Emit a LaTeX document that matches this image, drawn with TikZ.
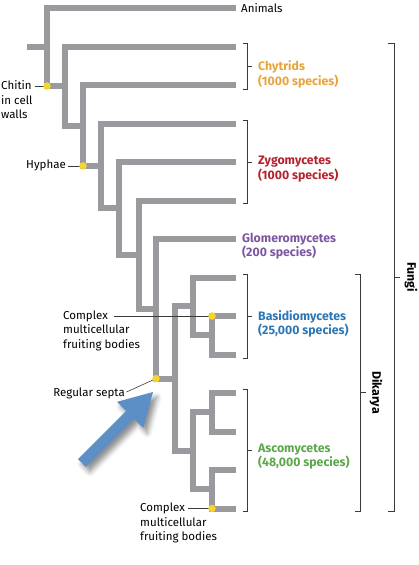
\documentclass[tikz,border=0pt]{standalone}
\usepackage{fontspec}
\setmainfont{Fira Sans}
\usetikzlibrary{positioning, arrows.meta, shadows.blur}

\definecolor{branchgray}{HTML}{9A9A9E}
\definecolor{dotyellow}{HTML}{F5D62E}
\definecolor{leadergray}{HTML}{3A3A3A}
\definecolor{arrowblue}{HTML}{5B8FC6}
\definecolor{chytorange}{HTML}{E9A33C}
\definecolor{zygored}{HTML}{B5222D}
\definecolor{glopurple}{HTML}{7C56A1}
\definecolor{basblue}{HTML}{2B77B5}
\definecolor{ascgreen}{HTML}{5CA64B}

\begin{document}
\begin{tikzpicture}[x=1pt, y=-1pt, font=\fontsize{11.5}{14.5}\selectfont,
    branch/.style={draw=branchgray, line width=6pt, line join=miter},
    dot/.style={circle, fill=dotyellow, inner sep=0pt, minimum size=7.5pt},
    leader/.style={draw=leadergray, line width=0.6pt},
    bracket/.style={draw=leadergray, line width=0.8pt},
    lbl/.style={inner sep=0pt, align=left},
    clade/.style={lbl, font=\fontsize{12.3}{14.5}\selectfont\bfseries}]

\useasboundingbox (0,0) rectangle (418,565);

% tips
\coordinate (tAnimals) at (236,8);
\coordinate (tChy1) at (236,46.5);
\coordinate (tChy2) at (236,85);
\coordinate (tZy1) at (236,123.5);
\coordinate (tZy2) at (236,162);
\coordinate (tZy3) at (236,200.5);
\coordinate (tGlo) at (236,239);
\coordinate (tBas1) at (236,277.5);
\coordinate (tBas2) at (236,316);
\coordinate (tBas3) at (236,354.5);
\coordinate (tAsc1) at (236,393);
\coordinate (tAsc2) at (236,431.5);
\coordinate (tAsc3) at (236,470);
\coordinate (tAsc4) at (236,508.5);

% inner nodes
\coordinate (root) at (27,47);
\coordinate (nOpist) at (47,47);
\coordinate (nFungi) at (65,86);
\coordinate (nChy) at (83,125.5);
\coordinate (nZy1) at (101,165.9);
\coordinate (nZy2) at (119,208.3);
\coordinate (nZy3) at (139,254.6);
\coordinate (nGlo) at (156,308.8);
\coordinate (nDik) at (175,378.6);
\coordinate (nBas) at (193,306.4);
\coordinate (nBas2) at (212,335.25);
\coordinate (nAsc) at (193,450.75);
\coordinate (nAsc1) at (212,412.25);
\coordinate (nAsc2) at (212,489.25);

% tree
\draw[branch] (root) -- (nOpist);
\draw[branch] (tAnimals) -| (nOpist) |- (nFungi);
\draw[branch] (tChy1) -| (nFungi) |- (nChy);
\draw[branch] (tChy2) -| (nChy) |- (nZy1);
\draw[branch] (tZy1) -| (nZy1) |- (nZy2);
\draw[branch] (tZy2) -| (nZy2) |- (nZy3);
\draw[branch] (tZy3) -| (nZy3) |- (nGlo);
\draw[branch] (tGlo) -| (nGlo) |- (nDik);
\draw[branch] (nBas) -| (nDik) |- (nAsc);
\draw[branch] (tBas1) -| (nBas) |- (nBas2);
\draw[branch] (tBas2) -| (nBas2) |- (tBas3);
\draw[branch] (nAsc1) -| (nAsc) |- (nAsc2);
\draw[branch] (tAsc1) -| (nAsc1) |- (tAsc2);
\draw[branch] (tAsc3) -| (nAsc2) |- (tAsc4);

% blue arrow
\fill[arrowblue, blur shadow={shadow xshift=4pt, shadow yshift=-5pt,
    shadow blur radius=5pt, shadow opacity=45}]
  (85.89,466.89) -- (133.97,418.81) -- (143.16,428.0) -- (153,392)
  -- (117.0,401.84) -- (126.19,411.03) -- (78.11,459.11) -- cycle;

% character labels
\coordinate (basLead) at (114,316);
\coordinate (ascLead) at (188,508.5);
\node[lbl, anchor=north west] (chitinLbl) at (1,80.5) {Chitin\\in cell\\walls};
\node[lbl, anchor=north west] (basLbl) at (63,310.5) {Complex\\multicellular\\fruiting bodies};
\node[lbl, anchor=north west] (ascLbl) at (140,503) {Complex\\multicellular\\fruiting bodies};
\node[lbl, anchor=east] (hyphaeLbl) at (66,165.9) {Hyphae};
\node[lbl, anchor=east] (septaLbl) at (125,393) {Regular septa};

\draw[leader] (chitinLbl.north east |- nFungi) ++(2,0) -- (nOpist |- nFungi);
\draw[leader] ([xshift=2pt]hyphaeLbl.east) -- (nChy |- nZy1);
\draw[leader] (basLead) -- (nBas2 |- tBas2);
\draw[leader] (ascLead) -- (nAsc2 |- tAsc4);
\draw[leader] ([xshift=1.5pt, yshift=1pt]septaLbl.east) -- (nGlo |- nDik);

% character dots
\node[dot] (chitin) at (nOpist |- nFungi) {};
\node[dot] (hyphae) at (nChy |- nZy1) {};
\node[dot] (septa) at (nGlo |- nDik) {};
\node[dot] (basFruit) at (nBas2 |- tBas2) {};
\node[dot] (ascFruit) at (nAsc2 |- tAsc4) {};

% brackets
\foreach \ytop/\ybot in {43/89.5, 120.5/203.5, 274/358, 389/511}
{
  \draw[bracket] (243,\ytop) -| (247,\ybot) -- (243,\ybot);
  \draw[bracket] (247,{(\ytop+\ybot)/2}) -- ++(5,0);
}
\draw[bracket] (355,274) -| (360,511) -- (355,511);
\draw[bracket] (360,392.5) -- ++(6,0);
\draw[bracket] (388,43) -| (394,511) -- (388,511);
\draw[bracket] (394,277) -- ++(6,0);

% taxa
\node[lbl, anchor=west] (animals) at (241,8) {Animals};
\node[clade, text=chytorange, anchor=north west] (chytrids) at (258,60.5) {Chytrids\\(1000 species)};
\node[clade, text=zygored, anchor=north west] (zygo) at (258,156) {Zygomycetes\\(1000 species)};
\node[clade, text=glopurple, anchor=north west] (glomero) at (242,232.5) {Glomeromycetes\\(200 species)};
\node[clade, text=basblue, anchor=north west] (basidio) at (258,310) {Basidiomycetes\\(25,000 species)};
\node[clade, text=ascgreen, anchor=north west] (asco) at (258,443.5) {Ascomycetes\\(48,000 species)};
\node[clade, rotate=-90] (dikarya) at (376,392.5) {Dikarya};
\node[clade, rotate=-90] (fungi) at (411,277) {Fungi};

\end{tikzpicture}
\end{document}
